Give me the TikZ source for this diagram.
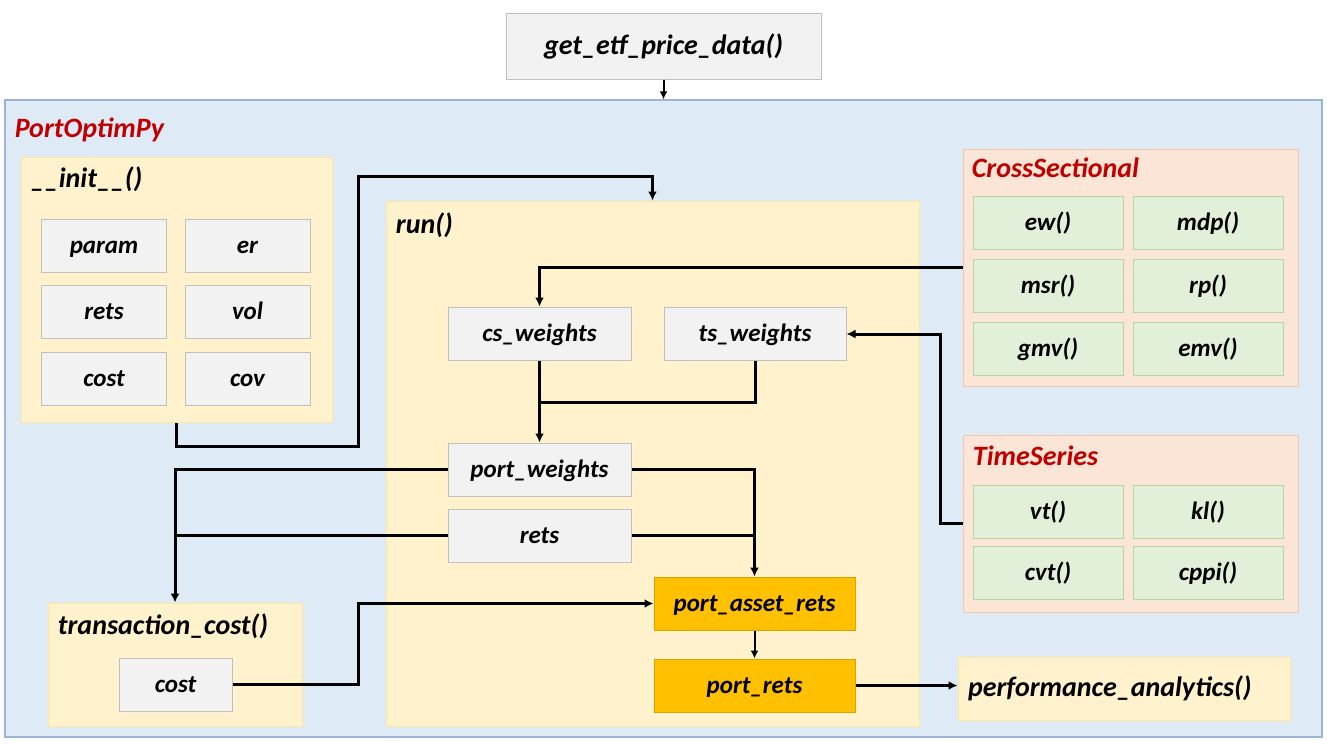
\documentclass[tikz,border=0pt]{standalone}
\usepackage{fontspec}
\setmainfont{Carlito}
\usepackage{tikz}
\usetikzlibrary{arrows.meta,positioning}
\definecolor{grayfill}{HTML}{F2F2F2}
\definecolor{grayline}{HTML}{BFBFBF}
\definecolor{bluefill}{HTML}{DEEBF7}
\definecolor{blueline}{HTML}{9DB4D8}
\definecolor{yellowfill}{HTML}{FFF2CC}
\definecolor{yellowline}{HTML}{FFE699}
\definecolor{peachfill}{HTML}{FBE5D6}
\definecolor{peachline}{HTML}{F4C7A8}
\definecolor{greenfill}{HTML}{E2F0D9}
\definecolor{greenline}{HTML}{B5D69C}
\definecolor{orangefill}{HTML}{FFC000}
\definecolor{orangeline}{HTML}{D9A300}
\definecolor{titlered}{HTML}{C00000}
\tikzset{
  txt/.style={font=\fontsize{12.5}{15}\selectfont\bfseries\itshape, text=black},
  big/.style={font=\fontsize{14}{17}\selectfont\bfseries\itshape},
  mid/.style={text height=9pt, text depth=1.5pt},
  outer/.style={draw=blueline, fill=bluefill, line width=0.6pt},
  func/.style={draw=yellowline, fill=yellowfill, line width=0.5pt},
  cls/.style={draw=peachline, fill=peachfill, line width=0.5pt},
  gbox/.style={txt, mid, draw=grayline, fill=grayfill, line width=0.5pt, minimum height=26.5pt},
  cell/.style={gbox, minimum width=62.5pt},
  wbox/.style={gbox, minimum width=91.5pt},
  obox/.style={txt, mid, draw=orangeline, fill=orangefill, line width=0.5pt, minimum width=100.5pt, minimum height=26.5pt},
  mbox/.style={txt, mid, draw=greenline, fill=greenfill, line width=0.5pt, minimum width=75pt, minimum height=26.5pt},
  ttl/.style={txt, big, anchor=north west, inner sep=0pt},
  rtl/.style={ttl, text=titlered},
  conn/.style={draw=black, line width=1.5pt},
  arr/.style={conn, -{Latex[length=4.5pt,width=4.5pt]}},
  tarr/.style={draw=black, line width=1pt, -{Latex[length=4pt,width=4pt]}}
}
\begin{document}
\begin{tikzpicture}[x=0.5pt,y=-0.5pt]
  \useasboundingbox (0,0) rectangle (1327,744);
  \fill[white] (0,0) rectangle (1327,744);

  \node[gbox, big, text height=10pt, minimum width=157.5pt, minimum height=33pt] (etf) at (663.5,46) {get\_etf\_price\_data()};
  \node[outer, minimum width=658.5pt, minimum height=318.5pt] (port) at (663.5,418.5) {};
  \node[rtl] at ([shift={(10,18)}]port.north west) {PortOptimPy};

  % __init__()
  \node[func, minimum width=155.5pt, minimum height=132.5pt] (init) at (176.5,289.5) {};
  \node[ttl] at ([shift={(10,10)}]init.north west) {\_\_init\_\_()};
  \node[cell] (param) at (104,245.5) {param};
  \node[cell] (er) at (247.5,245.5) {er};
  \node[cell] (irets) at (104,311.5) {rets};
  \node[cell] (vol) at (247.5,311.5) {vol};
  \node[cell] (icost) at (104,378.5) {cost};
  \node[cell] (cov) at (247.5,378.5) {cov};

  % run()
  \node[func, minimum width=266.5pt, minimum height=262.5pt] (run) at (652.5,463.5) {};
  \node[ttl] at ([shift={(10,12)}]run.north west) {run()};
  \node[wbox] (cs) at (539.5,333.5) {cs\_weights};
  \node[wbox, minimum width=91pt] (ts) at (755,334) {ts\_weights};
  \node[wbox] (pw) at (539.5,469.5) {port\_weights};
  \node[wbox] (rrets) at (539.5,535.5) {rets};
  \node[obox] (par) at (754.5,603.5) {port\_asset\_rets};
  \node[obox] (pr) at (754.5,685.5) {port\_rets};

  % transaction_cost()
  \node[func, minimum width=127pt, minimum height=61.5pt] (tcost) at (175,664.5) {};
  \node[ttl] at ([shift={(10,11)}]tcost.north west) {transaction\_cost()};
  \node[gbox, minimum width=56.5pt] (tccost) at (175.5,684.5) {cost};

  % CrossSectional
  \node[cls, minimum width=167.5pt, minimum height=118.5pt] (cross) at (1130.5,267.5) {};
  \node[rtl] at ([shift={(9,9)}]cross.north west) {CrossSectional};
  \node[mbox] (ew) at (1048,222.5) {ew()};
  \node[mbox] (mdp) at (1208,222.5) {mdp()};
  \node[mbox] (msr) at (1048,285.5) {msr()};
  \node[mbox] (rp) at (1208,285.5) {rp()};
  \node[mbox] (gmv) at (1048,348.5) {gmv()};
  \node[mbox] (emv) at (1208,348.5) {emv()};

  % TimeSeries
  \node[cls, minimum width=167.5pt, minimum height=88.5pt] (tseries) at (1130.5,523.5) {};
  \node[rtl] at ([shift={(10,11)}]tseries.north west) {TimeSeries};
  \node[mbox] (vt) at (1048,511.5) {vt()};
  \node[mbox] (kl) at (1208,511.5) {kl()};
  \node[mbox] (cvt) at (1048,572.5) {cvt()};
  \node[mbox] (cppi) at (1208,572.5) {cppi()};

  \node[func, txt, big, minimum width=166pt, minimum height=31.5pt, align=left, text width=156pt] (perf) at (1124,688.5) {performance\_analytics()};

  % connectors
  \draw[tarr] (etf.south) -- (port.north);
  \draw[arr] (init.south) -- (176.5,446) -| (358,176) -| (run.north);
  \draw[arr] (cross.west) -| (cs.north);
  \draw[arr] (tseries.west) -- (940,523.5) |- (ts.east);
  \draw[arr] (cs.south) -- (pw.north);
  \draw[conn] (ts.south) |- (cs.south |- 0,402);
  \draw[arr] (pw.west) -| (tcost.north);
  \draw[conn] (rrets.west) -- (rrets.west -| tcost.north);
  \draw[arr] (pw.east) -| (par.north);
  \draw[conn] (rrets.east) -- (rrets.east -| par.north);
  \draw[tarr] (par.south) -- (pr.north);
  \draw[arr] (tccost.east) -- (358,684.5) |- (par.west);
  \draw[arr] (pr.east) -- (pr.east -| perf.west);
\end{tikzpicture}
\end{document}
